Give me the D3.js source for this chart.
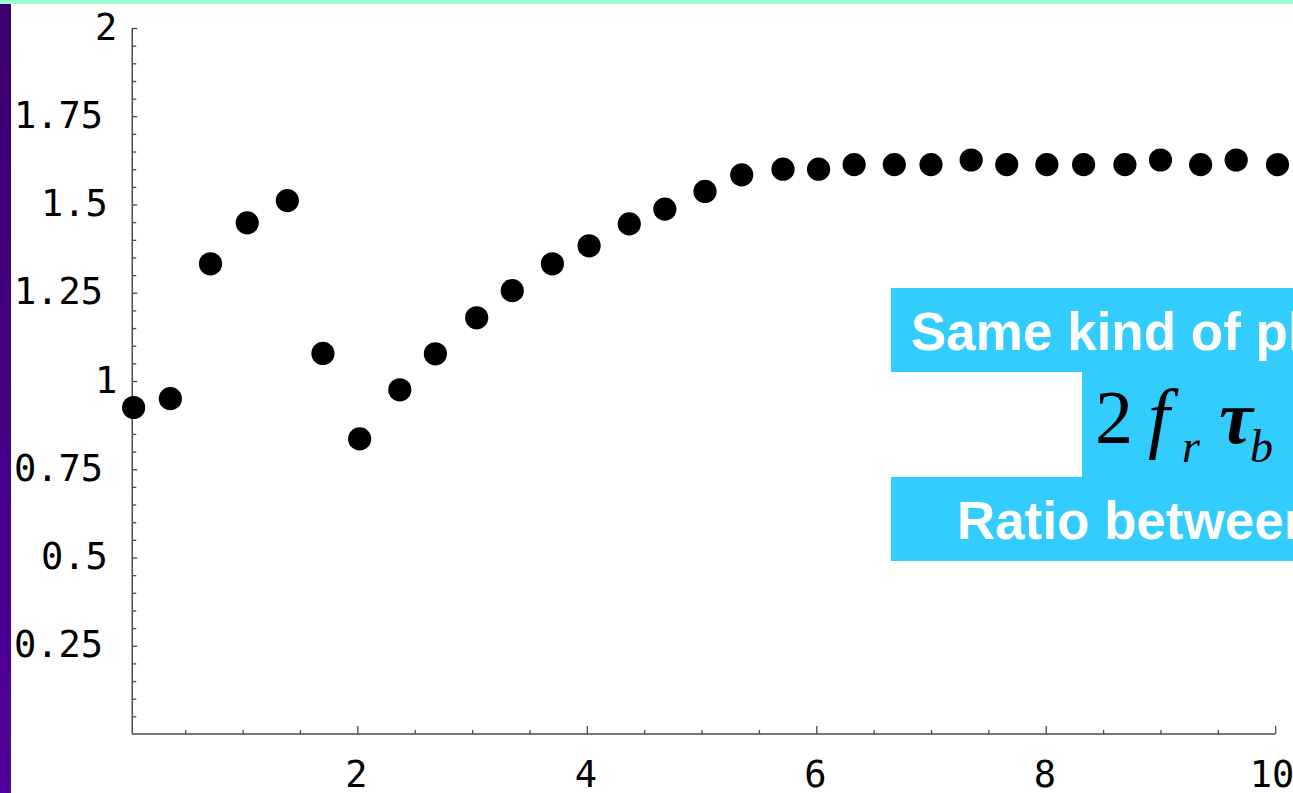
<!DOCTYPE html>
<head>
    <meta charset="utf-8">
    <script src="https://d3js.org/d3.v7.min.js"></script>
    <style>
      body { margin: 0; background: #fff; overflow: hidden; }
      .ticklabel {
        font-family: "DejaVu Sans Mono", "Liberation Mono", monospace;
        font-size: 37px;
        fill: #000;
      }
      .boxtext {
        font-family: "Liberation Sans", Arial, sans-serif;
        font-weight: bold;
        font-size: 53px;
        fill: #fff;
      }
      .formula {
        font-family: "Liberation Serif", "Times New Roman", serif;
        fill: #000;
      }
    </style>
<body>
    <script>
        // data
        var xValues = [0.05, 0.37, 0.72, 1.04, 1.39, 1.70, 2.02, 2.37, 2.68, 3.04,
                       3.35, 3.70, 4.02, 4.37, 4.68, 5.03, 5.35, 5.71, 6.02, 6.33,
                       6.68, 7.00, 7.35, 7.66, 8.01, 8.33, 8.69, 9.00, 9.35, 9.66, 10.02];
        var yValues = [0.925, 0.95, 1.332, 1.448, 1.511, 1.078, 0.836, 0.975, 1.077, 1.179,
                       1.256, 1.332, 1.383, 1.445, 1.487, 1.537, 1.584, 1.600, 1.600, 1.613,
                       1.613, 1.613, 1.626, 1.613, 1.613, 1.613, 1.613, 1.626, 1.613, 1.626, 1.613];
        var xMajorTicks = [2, 4, 6, 8, 10];
        var xTickLabels = ["2", "4", "6", "8", "10"];
        var xMinorTicks = [0.5, 1, 1.5, 2.5, 3, 3.5, 4.5, 5, 5.5, 6.5, 7, 7.5, 8.5, 9, 9.5];
        var yMajorTicks = [0.25, 0.5, 0.75, 1, 1.25, 1.5, 1.75, 2];
        var yTickLabels = ["0.25", "0.5", "0.75", "1", "1.25", "1.5", "1.75", "2"];
        var boxLines = ["Same kind of plot", "Ratio between"];

        var W = 1293, H = 793;
        var svg = d3.select("body").append("svg")
          .attr("width", W)
          .attr("height", H);

        // slide decoration
        var grad = svg.append("defs").append("linearGradient")
          .attr("id", "sidebar").attr("x1", 0).attr("y1", 0).attr("x2", 0).attr("y2", 1);
        grad.append("stop").attr("offset", "0%").attr("stop-color", "#3a006e");
        grad.append("stop").attr("offset", "100%").attr("stop-color", "#50009a");
        svg.append("rect").attr("x", 0).attr("y", 0).attr("width", 11).attr("height", H)
          .attr("fill", "url(#sidebar)");
        svg.append("rect").attr("x", 0).attr("y", 0).attr("width", W).attr("height", 4)
          .attr("fill", "#a0ffd2");

        var x = d3.scaleLinear().domain([0, 10]).range([127.9, 1275.2]);
        var y = d3.scaleLinear().domain([0, 2]).range([734, 28]);
        var axisOriginX = 0.038;
        var axisColor = "#4a4a4a";

        // x axis
        var xAxisG = svg.append("g").attr("transform", "translate(0," + y(0) + ")");
        xAxisG.append("g")
          .call(d3.axisBottom(x).tickValues(xMinorTicks).tickSizeInner(-4).tickSizeOuter(0).tickFormat(""))
          .call(function(g){ g.select(".domain").remove(); });
        var xMaj = xAxisG.append("g")
          .call(d3.axisBottom(x).tickValues(xMajorTicks).tickSizeInner(-8).tickSizeOuter(0)
                .tickFormat(function(d, i){ return xTickLabels[i]; }));
        xMaj.select(".domain").remove();
        xMaj.selectAll("text")
          .attr("class", "ticklabel")
          .attr("text-anchor", "start")
          .attr("dy", 0)
          .attr("x", function(d, i){ return -xTickLabels[i].length * 13.5 + 1; })
          .attr("y", 53);
        xAxisG.selectAll("line").attr("stroke", axisColor).attr("stroke-width", 1.3);
        xAxisG.append("line")
          .attr("x1", x(axisOriginX)).attr("x2", x(10))
          .attr("stroke", axisColor).attr("stroke-width", 1.5);

        // y axis
        var yAxisG = svg.append("g").attr("transform", "translate(" + x(axisOriginX) + ",0)");
        var yMinor = d3.range(1, 40).map(function(i){ return i * 0.05; })
          .filter(function(v, i){ return (i + 1) % 5 !== 0; });
        yAxisG.append("g")
          .call(d3.axisLeft(y).tickValues(yMinor).tickSizeInner(-4).tickSizeOuter(0).tickFormat(""))
          .call(function(g){ g.select(".domain").remove(); });
        var yMaj = yAxisG.append("g")
          .call(d3.axisLeft(y).tickValues(yMajorTicks).tickSizeInner(-5).tickSizeOuter(0)
                .tickFormat(function(d, i){ return yTickLabels[i]; }));
        yMaj.select(".domain").remove();
        yMaj.selectAll("text")
          .attr("class", "ticklabel")
          .attr("text-anchor", "start")
          .attr("dy", "0.3em")
          .attr("x", function(d, i){ return -10.3 - yTickLabels[i].length * 27; });
        yAxisG.selectAll("line").attr("stroke", axisColor).attr("stroke-width", 1.3);
        yAxisG.append("line")
          .attr("y1", y(0)).attr("y2", y(2))
          .attr("stroke", axisColor).attr("stroke-width", 1.5);

        // points
        var pts = xValues.map(function(v, i){ return {x: v, y: yValues[i]}; });
        svg.append("g").selectAll("circle").data(pts).enter().append("circle")
          .attr("cx", function(d){ return x(d.x); })
          .attr("cy", function(d){ return y(d.y); })
          .attr("r", 11.6)
          .attr("fill", "#000");

        // cyan annotation box
        var box = svg.append("g");
        box.append("rect").attr("x", 891).attr("y", 288).attr("width", 420).attr("height", 84)
          .attr("fill", "#33ccff");
        box.append("rect").attr("x", 1082).attr("y", 371).attr("width", 230).attr("height", 107)
          .attr("fill", "#33ccff");
        box.append("rect").attr("x", 891).attr("y", 477).attr("width", 420).attr("height", 84)
          .attr("fill", "#33ccff");
        box.append("text").attr("class", "boxtext").attr("x", 911).attr("y", 350).text(boxLines[0]);
        box.append("text").attr("class", "boxtext").attr("x", 957).attr("y", 539).text(boxLines[1]);

        var f = box.append("text").attr("class", "formula");
        f.append("tspan").attr("x", 1095).attr("y", 443).attr("font-size", 76).text("2");
        f.append("tspan").attr("x", 1148).attr("y", 443).attr("font-size", 78)
          .attr("font-style", "italic").text("f");
        f.append("tspan").attr("x", 1182).attr("y", 462).attr("font-size", 46)
          .attr("font-style", "italic").text("r");
        f.append("tspan").attr("x", 1219).attr("y", 443).attr("font-size", 76)
          .attr("font-style", "italic").attr("font-weight", "bold").text("\u03c4");
        f.append("tspan").attr("x", 1250).attr("y", 462).attr("font-size", 46)
          .attr("font-style", "italic").text("b");
    </script>
</body>
